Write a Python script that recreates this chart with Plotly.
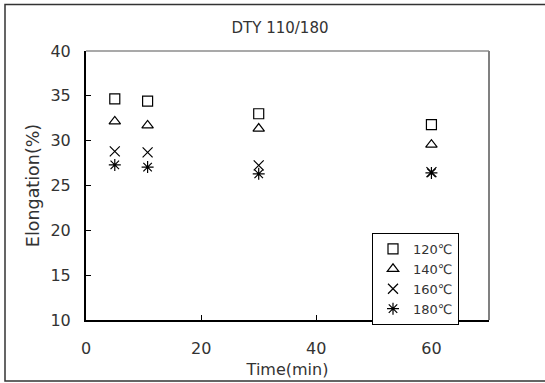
import plotly.graph_objects as go

time_min = [5, 10.7, 30, 60]
series_names = ["120℃", "140℃", "160℃", "180℃"]
elong_120 = [34.65, 34.4, 33.0, 31.8]
elong_140 = [32.15, 31.7, 31.35, 29.55]
elong_160 = [28.8, 28.7, 27.25, 26.5]
elong_180 = [27.3, 27.05, 26.3, 26.4]
series_values = [elong_120, elong_140, elong_160, elong_180]
symbols = ["square-open", "triangle-up-open", "x-thin-open", "asterisk-open"]
sizes = [10, 10, 10, 10]
y_ticks = [10, 15, 20, 25, 30, 35, 40]
x_ticks = [0, 20, 40, 60]

FONT = "DejaVu Sans, Noto Sans CJK KR, sans-serif"
TXT = "#333333"

fig = go.Figure()
for name, vals, sym, sz in zip(series_names, series_values, symbols, sizes):
    fig.add_trace(go.Scatter(
        x=time_min, y=vals, mode="markers", name=name,
        marker=dict(symbol=sym, size=sz, color="black",
                    line=dict(color="black", width=1.2)),
    ))

W, H = 545, 383
L, R, T, B = 86, 489, 51, 320
pw, ph = R - L, B - T

def px(xp):
    return (xp - L) / pw

def py(yp):
    return (B - yp) / ph

shapes = [
    # outer frame (right edge is cut off by the image border)
    dict(type="rect", xref="paper", yref="paper",
         x0=px(5), x1=px(550), y0=py(381), y1=py(4.5),
         line=dict(color="#333333", width=1.5), layer="below"),
    # top and right plot edges (gray)
    dict(type="line", xref="paper", yref="paper", x0=0, x1=1, y0=1, y1=1,
         line=dict(color="#555555", width=1.2)),
    dict(type="line", xref="paper", yref="paper", x0=1, x1=1, y0=0, y1=1,
         line=dict(color="#808080", width=2)),
]

fig.update_layout(
    width=W, height=H,
    margin=dict(l=L, r=W - R, t=T, b=H - B),
    paper_bgcolor="white", plot_bgcolor="white",
    font=dict(family=FONT, color=TXT, size=15),
    title=dict(text="DTY 110/180", x=280 / W, xanchor="center",
               y=1 - 28 / H, yanchor="middle",
               font=dict(size=15, color=TXT, family=FONT)),
    xaxis=dict(range=[0, 70], tickvals=x_ticks, showgrid=False, zeroline=False,
               showline=True, linecolor="black", linewidth=1.5,
               ticks="inside", ticklen=5, tickcolor="black", tickwidth=1,
               ticklabelstandoff=13, automargin=False,
               tickfont=dict(size=16, color=TXT),
               title=dict(text="Time(min)", font=dict(size=16, color=TXT), standoff=7)),
    yaxis=dict(range=[10, 40], tickvals=y_ticks, showgrid=False, zeroline=False,
               showline=True, linecolor="black", linewidth=2,
               ticks="inside", ticklen=5, tickcolor="black", tickwidth=1,
               ticklabelstandoff=10, automargin=False,
               tickfont=dict(size=16, color=TXT),
               title=dict(text="Elongation(%)", font=dict(size=17.5, color=TXT), standoff=6)),
    showlegend=True,
    legend=dict(x=px(459), xanchor="right", y=py(233), yanchor="top",
                bgcolor="white", bordercolor="black", borderwidth=1,
                font=dict(size=13, color=TXT, family=FONT),
                itemwidth=30, tracegroupgap=0),
    shapes=shapes,
)

fig.write_html("out.html")
